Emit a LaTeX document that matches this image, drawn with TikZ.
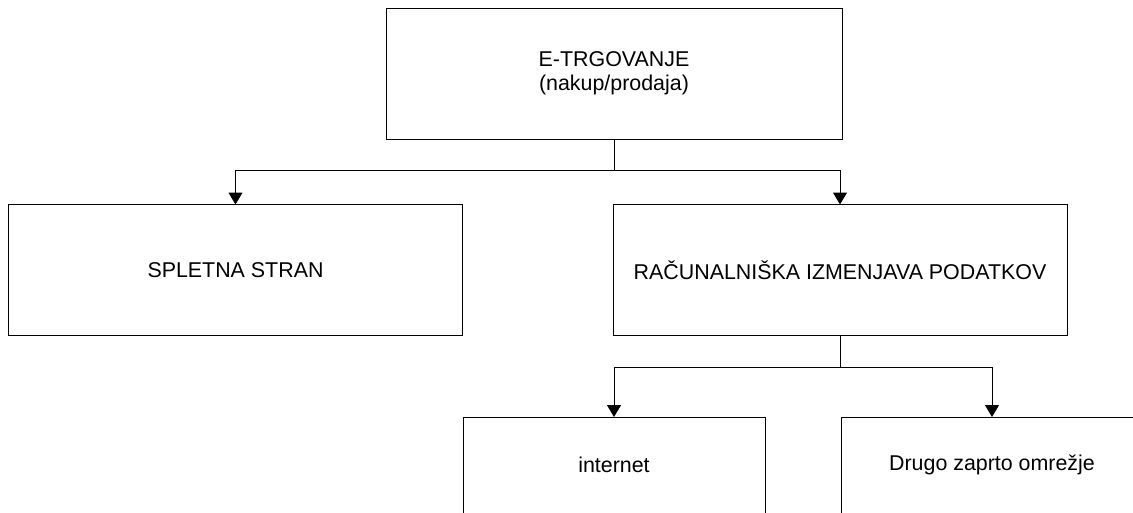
\documentclass[tikz,border=0pt]{standalone}
\usepackage{fontspec}
\setmainfont{Liberation Sans}
\usetikzlibrary{arrows.meta}
\begin{document}
\begin{tikzpicture}[x=1pt,y=-1pt,
  box/.style={draw=black, line width=1pt, inner sep=0pt, outer sep=0pt,
    minimum height=131pt, align=center,
    font=\fontsize{21.4}{24}\selectfont},
  widebox/.style={box, minimum width=454pt},
  smallbox/.style={box, minimum width=302pt, minimum height=96pt},
  conn/.style={draw=black, line width=1pt},
  arr/.style={conn, -{Triangle[width=14pt,length=12pt]}}]
\useasboundingbox (0,0) rectangle (1133,512);
\clip (0,0) rectangle (1133,512);
\fill[white] (0,0) rectangle (1133,512);
\node[box, minimum width=456pt] (top) at (614,73.5) {E-TRGOVANJE\\(nakup/prodaja)};
\node[widebox] (left) at (235.5,270) {SPLETNA STRAN};
\node[widebox] (right) at (840,270) {RAČUNALNIŠKA IZMENJAVA PODATKOV};
\node[smallbox] (inet) at (614,465) {internet};
\node[smallbox] (drugo) at (992,465) {Drugo zaprto omrežje};
\coordinate (j1) at (614,170);
\coordinate (j2) at (840,367);
\draw[arr] (top.south) -- (j1) -| (left.north);
\draw[arr] (j1) -| (right.north);
\draw[arr] (right.south) -- (j2) -| (inet.north);
\draw[arr] (j2) -| (drugo.north);
\end{tikzpicture}
\end{document}
